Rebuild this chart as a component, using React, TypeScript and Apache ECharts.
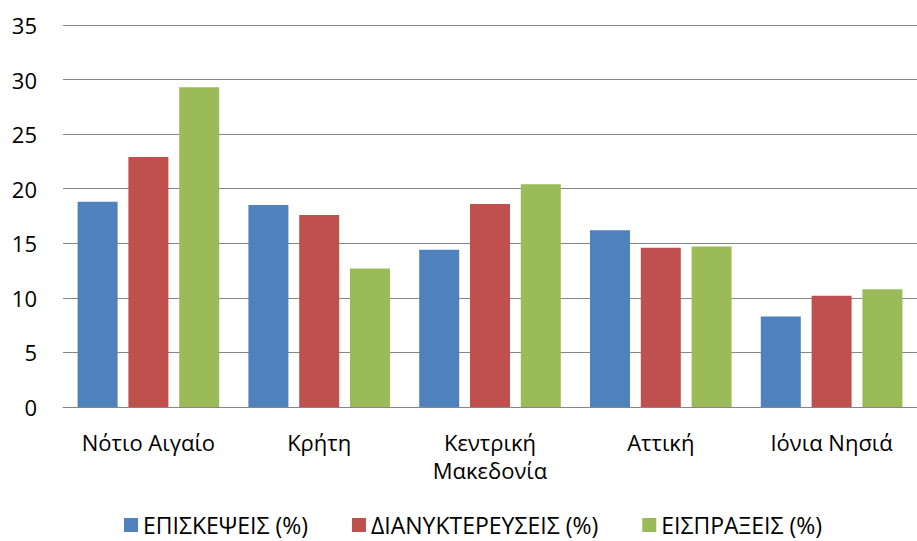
import React, { useEffect, useRef } from "react";
import * as echarts from "echarts";

const categories = ["Νότιο Αιγαίο", "Κρήτη", "Κεντρική\nΜακεδονία", "Αττική", "Ιόνια Νησιά"];
const seriesNames = ["ΕΠΙΣΚΕΨΕΙΣ (%)", "ΔΙΑΝΥΚΤΕΡΕΥΣΕΙΣ (%)", "ΕΙΣΠΡΑΞΕΙΣ (%)"];
const visits = [18.8, 18.5, 14.4, 16.2, 8.3];
const overnights = [22.9, 17.6, 18.6, 14.6, 10.2];
const revenue = [29.3, 12.7, 20.4, 14.7, 10.8];
const colors = ["#4F81BD", "#C0504D", "#9BBB59"];

export default function App() {
  const ref = useRef<HTMLDivElement>(null);
  useEffect(() => {
    document.body.style.margin = "0";
    const chart = echarts.init(ref.current!, null, { renderer: "svg" });
    const font = "'Open Sans', 'Noto Sans', sans-serif";
    const data = [visits, overnights, revenue];
    chart.setOption({
      animation: false,
      textStyle: { fontFamily: font },
      grid: { left: 63, right: 0, top: 25, bottom: 134, containLabel: false },
      legend: {
        top: 513,
        left: 124,
        padding: 0,
        itemWidth: 14,
        itemHeight: 14,
        itemGap: 44,
        icon: "rect",
        textStyle: {
          fontFamily: font,
          fontSize: 23,
          lineHeight: 24,
          color: "#000",
          verticalAlign: "middle",
        },
        data: seriesNames,
      },
      xAxis: {
        type: "category",
        data: categories,
        axisLine: { lineStyle: { color: "#868686", width: 1 } },
        axisTick: { show: false },
        axisLabel: { color: "#000", fontSize: 22, margin: 21, lineHeight: 28, fontFamily: font, interval: 0 },
      },
      yAxis: {
        type: "value",
        min: 0,
        max: 35,
        interval: 5,
        axisLine: { show: false },
        axisTick: { show: false },
        splitLine: { lineStyle: { color: "#868686", width: 1 } },
        axisLabel: { color: "#000", fontSize: 22, margin: 26, fontFamily: font },
      },
      series: seriesNames.map((name, i) => ({
        name,
        type: "bar",
        data: data[i],
        barWidth: 40,
        barGap: "27%",
        itemStyle: { color: colors[i] },
      })),
    });
    return () => chart.dispose();
  }, []);
  return <div ref={ref} style={{ width: 917, height: 541 }} />;
}
